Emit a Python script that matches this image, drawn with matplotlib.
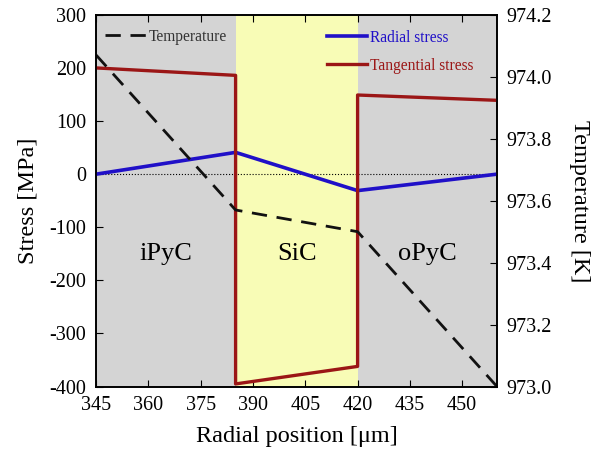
import matplotlib
matplotlib.use('Agg')
import matplotlib.pyplot as plt

plt.rcParams['font.family'] = ['Liberation Serif', 'DejaVu Serif']
plt.rcParams['axes.unicode_minus'] = False

# Data
tan_r = [345, 385, 385, 420, 420, 460]
tan_stress = [200, 186, -395, -362, 149, 139]
rad_r = [345, 385, 420, 460]
rad_stress = [0, 41, -31, 0]
temp_r = [345, 385, 420, 460]
temp = [974.07, 973.57, 973.50, 973.0]

layers = ['iPyC', 'SiC', 'oPyC']
layer_edges = [345, 385, 420, 460]
layer_colors = ['#d4d4d4', '#f8fcb6', '#d4d4d4']
xticks = [345, 360, 375, 390, 405, 420, 435, 450]

fig = plt.figure(figsize=(6.01, 4.49), dpi=100)
ax = fig.add_axes([0.160, 0.139, 0.667, 0.828])

for i, name in enumerate(layers):
    ax.axvspan(layer_edges[i], layer_edges[i + 1], color=layer_colors[i], lw=0, zorder=0)
    ax.text((layer_edges[i] + layer_edges[i + 1]) / 2, -150, name,
            ha='center', va='center', fontsize=19)

ax.axhline(0, color='black', lw=0.8, ls=':', zorder=1)
l_rad, = ax.plot(rad_r, rad_stress, color='#2010c8', lw=2.6, label='Radial stress', zorder=3)
l_tan, = ax.plot(tan_r, tan_stress, color='#9b1616', lw=2.4, label='Tangential stress', zorder=3)

ax.set_xlim(345, 460)
ax.set_ylim(-400, 300)
ax.set_xticks(xticks)
ax.set_yticks(range(-400, 301, 100))
ax.tick_params(direction='in', labelsize=14.5, top=True, right=False, length=5, pad=7)
ax.set_xlabel('Radial position [μm]', fontsize=17.5, labelpad=8)
ax.set_ylabel('Stress [MPa]', fontsize=17.5, labelpad=8)

ax2 = ax.twinx()
l_temp, = ax2.plot(temp_r, temp, color='#111111', lw=2, ls=(0, (5.5, 3.5)), label='Temperature')
ax2.set_ylim(973.0, 974.2)
ax2.set_yticks([973.0, 973.2, 973.4, 973.6, 973.8, 974.0, 974.2])
ax2.set_yticklabels(['973.0', '973.2', '973.4', '973.6', '973.8', '974.0', '974.2'])
ax2.tick_params(direction='in', labelsize=14.5, length=5, pad=7)
ax2.set_ylabel('Temperature [K]', fontsize=17.5, rotation=270, labelpad=27)

for sp in list(ax.spines.values()) + list(ax2.spines.values()):
    sp.set_linewidth(1.2)

leg1 = ax2.legend(handles=[l_temp], loc='upper left', bbox_to_anchor=(-0.012, 1.0),
                  frameon=False, fontsize=11.2, handlelength=2.6, handletextpad=0.2,
                  borderaxespad=0.5)
for t in leg1.get_texts():
    t.set_color('#333333')
leg2 = ax2.legend(handles=[l_rad, l_tan], loc='upper left', bbox_to_anchor=(0.54, 0.997),
                  frameon=False, fontsize=11.2, handlelength=2.6, handletextpad=0.2,
                  labelspacing=0.75, borderaxespad=0.5)
for t, c in zip(leg2.get_texts(), ['#2010c8', '#9b1616']):
    t.set_color(c)
ax2.add_artist(leg1)

fig.savefig('out.png', dpi=100)
